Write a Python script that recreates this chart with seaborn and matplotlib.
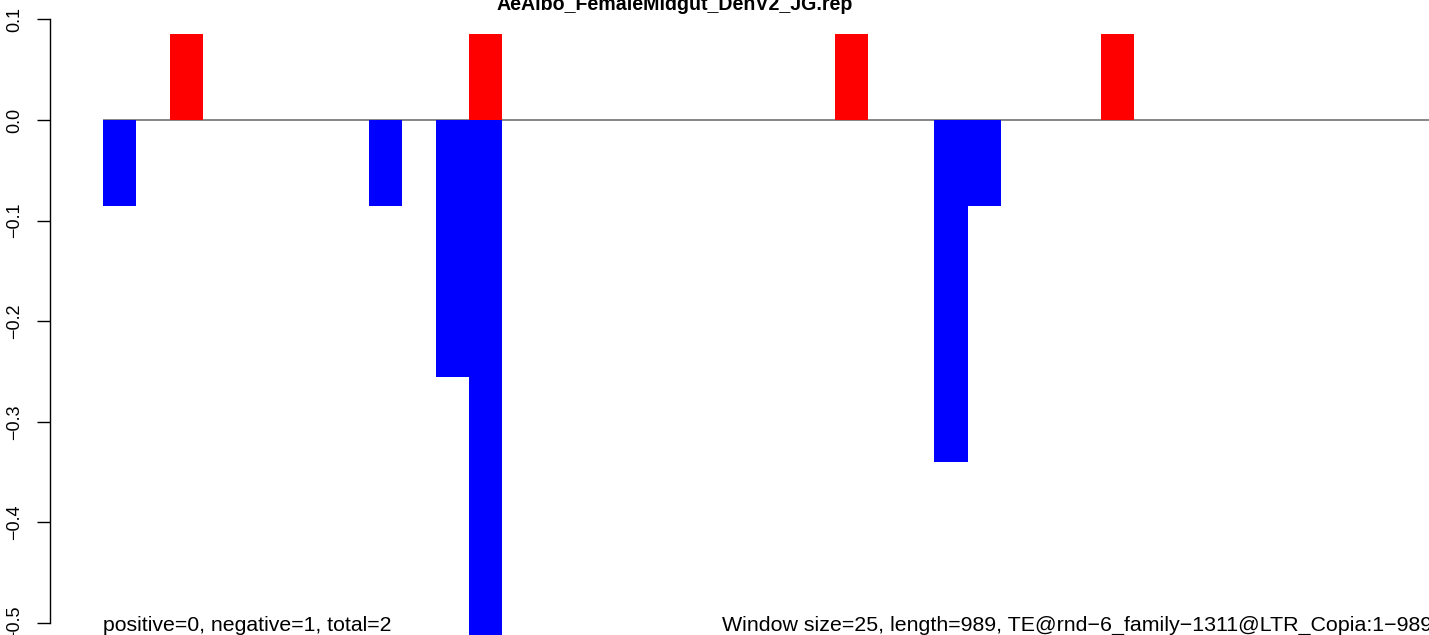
import numpy as np
import pandas as pd
import seaborn as sns
import matplotlib
matplotlib.use("Agg")
import matplotlib.pyplot as plt

# ---- data ----
n_windows = 40
pos_windows = [2, 11, 22, 30]
pos_values = [0.085, 0.085, 0.085, 0.085]
neg_windows = [0, 8, 10, 11, 25, 26]
neg_values = [-0.085, -0.085, -0.255, -0.60, -0.34, -0.085]
yticks = [0.1, 0.0, -0.1, -0.2, -0.3, -0.4, -0.5]
title = "AeAlbo_FemaleMidgut_DenV2_JG.rep"
left_note = "positive=0, negative=1, total=2"
right_note = "Window size=25, length=989, TE@rnd\u22126_family\u22121311@LTR_Copia:1\u2212989"

windows = np.arange(n_windows)
pos = np.zeros(n_windows)
neg = np.zeros(n_windows)
pos[pos_windows] = pos_values
neg[neg_windows] = neg_values
df = pd.DataFrame({"window": windows, "pos": pos, "neg": neg})

sns.set_theme(style="white")
plt.rcParams["font.family"] = ["Liberation Sans", "DejaVu Sans"]
plt.rcParams["text.color"] = "black"

W, H = 1429, 635
fig = plt.figure(figsize=(W / 100, H / 100), dpi=100)
ax = fig.add_axes([50 / W, 0, 1 - 50 / W, 1])

# pixel mapping helpers (layout only)
px0, pxw = 103.0, 33.25
def xdata(px):
    return (px - px0) / pxw - 0.5
y0px, ypx = 120.0, 1006.0
def ydata(py):
    return (y0px - py) / ypx

# zero line from the first window onward
ax.hlines(0, windows[0] - 0.5, windows[-1] + 3, color="#666666", lw=1.1, zorder=0)
sns.barplot(data=df, x="window", y="pos", color="#ff0000", saturation=1,
            width=1, linewidth=0, errorbar=None, ax=ax, zorder=2)
sns.barplot(data=df, x="window", y="neg", color="#0000ff", saturation=1,
            width=1, linewidth=0, errorbar=None, ax=ax, zorder=2)

ax.set_xlim(xdata(50), xdata(W))
ax.set_ylim(ydata(H), ydata(0))

ax.set_xlabel("")
ax.set_ylabel("")
ax.set_xticks([])
ax.set_yticks(yticks)
ax.set_yticklabels([f"{v:.1f}".replace("-", "\u2212") for v in yticks],
                   rotation=90, va="center", fontsize=13, color="black")
ax.tick_params(axis="y", direction="out", length=9.4, width=1.0,
               pad=10, colors="black", left=True)
for s in ["top", "right", "bottom"]:
    ax.spines[s].set_visible(False)
ax.spines["left"].set_bounds(-0.5, 0.1)
ax.spines["left"].set_color("black")
ax.spines["left"].set_linewidth(1.0)
ax.patch.set_alpha(0)

fig.text(674.5 / W, 1 - 10 / H, title, ha="center", va="baseline",
         fontsize=14.1, fontweight="bold", color="black")
fig.text(103 / W, 1 - 631 / H, left_note, ha="left", va="baseline",
         fontsize=15.3, color="black")
fig.text(722 / W, 1 - 631 / H, right_note, ha="left", va="baseline",
         fontsize=15.4, color="black")

fig.savefig("out.png", dpi=100)
